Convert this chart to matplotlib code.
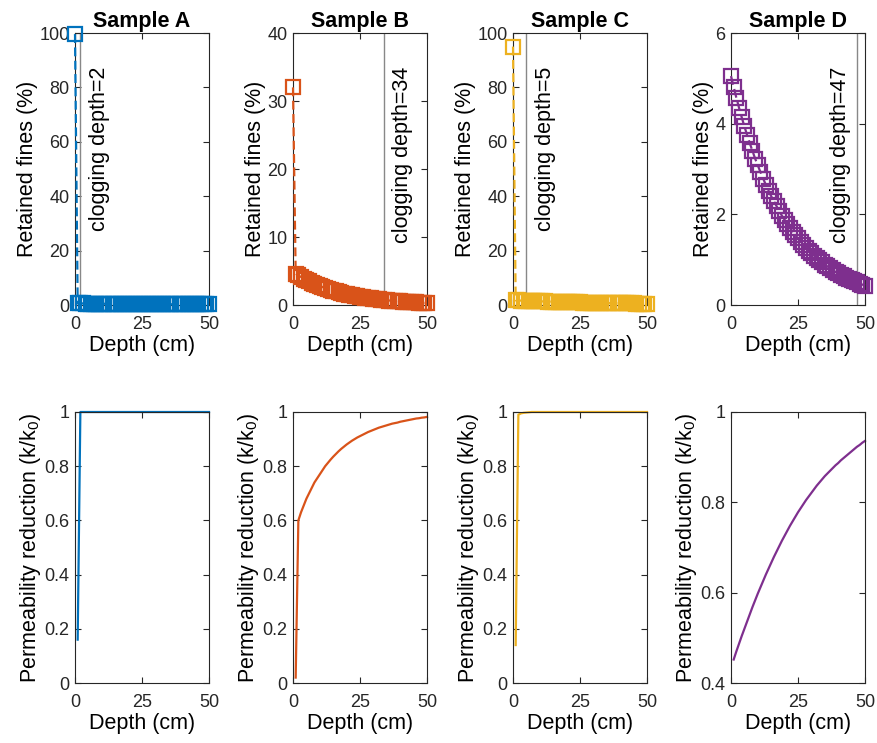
import numpy as np
import matplotlib
matplotlib.use("Agg")
import matplotlib.pyplot as plt

plt.rcParams["font.family"] = ["Liberation Sans", "DejaVu Sans"]
plt.rcParams["mathtext.fontset"] = "custom"
plt.rcParams["mathtext.rm"] = "Liberation Sans"
plt.rcParams["mathtext.it"] = "Liberation Sans:italic"

samples = ["Sample A", "Sample B", "Sample C", "Sample D"]
colors = ["#0072BD", "#D95319", "#EDB120", "#7E2F8E"]
clog_depth = [2, 34, 5, 47]

# depth grids (cm)
depth_top = np.arange(0, 51)
depth_bot = np.arange(1, 51)

# retained fines (%) at depth 0..50
fines_a = [99.6,
           0.60, 0.58, 0.57, 0.55, 0.54, 0.52, 0.51, 0.50, 0.48, 0.47,
           0.46, 0.45, 0.44, 0.43, 0.42, 0.41, 0.40, 0.39, 0.38, 0.37,
           0.36, 0.35, 0.34, 0.34, 0.33, 0.32, 0.31, 0.31, 0.30, 0.29,
           0.29, 0.28, 0.27, 0.27, 0.26, 0.26, 0.25, 0.25, 0.24, 0.24,
           0.23, 0.23, 0.22, 0.22, 0.21, 0.21, 0.21, 0.20, 0.20, 0.20]
fines_b = [32.0,
           4.60, 4.35, 4.12, 3.89, 3.68, 3.48, 3.30, 3.12, 2.95, 2.79,
           2.64, 2.50, 2.36, 2.23, 2.11, 2.00, 1.89, 1.79, 1.69, 1.60,
           1.51, 1.43, 1.35, 1.28, 1.21, 1.15, 1.08, 1.03, 0.97, 0.92,
           0.87, 0.82, 0.78, 0.73, 0.69, 0.66, 0.62, 0.59, 0.56, 0.53,
           0.50, 0.47, 0.44, 0.42, 0.40, 0.38, 0.36, 0.34, 0.32, 0.30]
fines_c = [95.0,
           1.70, 1.66, 1.62, 1.58, 1.54, 1.50, 1.46, 1.43, 1.39, 1.36,
           1.32, 1.29, 1.26, 1.23, 1.20, 1.17, 1.14, 1.11, 1.08, 1.06,
           1.03, 1.01, 0.98, 0.96, 0.93, 0.91, 0.89, 0.87, 0.84, 0.82,
           0.80, 0.78, 0.76, 0.75, 0.73, 0.71, 0.69, 0.68, 0.66, 0.64,
           0.63, 0.61, 0.60, 0.58, 0.57, 0.55, 0.54, 0.53, 0.51, 0.50]
fines_d = [5.05,
           4.81, 4.57, 4.35, 4.14, 3.94, 3.75, 3.57, 3.40, 3.23, 3.08,
           2.93, 2.79, 2.65, 2.52, 2.40, 2.29, 2.18, 2.07, 1.97, 1.88,
           1.79, 1.70, 1.62, 1.54, 1.47, 1.40, 1.33, 1.26, 1.20, 1.14,
           1.09, 1.04, 0.99, 0.94, 0.89, 0.85, 0.81, 0.77, 0.73, 0.70,
           0.66, 0.63, 0.60, 0.57, 0.55, 0.52, 0.50, 0.47, 0.45, 0.43]

# permeability reduction k/k0 at depth 1..50
perm_a = [0.16,
          1.0, 1.0, 1.0, 1.0, 1.0, 1.0, 1.0, 1.0, 1.0,
          1.0, 1.0, 1.0, 1.0, 1.0, 1.0, 1.0, 1.0, 1.0, 1.0,
          1.0, 1.0, 1.0, 1.0, 1.0, 1.0, 1.0, 1.0, 1.0, 1.0,
          1.0, 1.0, 1.0, 1.0, 1.0, 1.0, 1.0, 1.0, 1.0, 1.0,
          1.0, 1.0, 1.0, 1.0, 1.0, 1.0, 1.0, 1.0, 1.0, 1.0]
perm_b = [0.02,
          0.600, 0.630, 0.655, 0.680, 0.700, 0.720, 0.740, 0.755, 0.770, 0.785,
          0.800, 0.812, 0.824, 0.835, 0.845, 0.855, 0.864, 0.872, 0.880, 0.887,
          0.894, 0.900, 0.906, 0.911, 0.916, 0.921, 0.926, 0.930, 0.934, 0.938,
          0.942, 0.945, 0.948, 0.951, 0.954, 0.957, 0.959, 0.961, 0.964, 0.966,
          0.968, 0.970, 0.972, 0.974, 0.976, 0.977, 0.979, 0.980, 0.982]
perm_c = [0.14,
          0.990, 0.995, 0.997, 0.998, 0.999, 1.0, 1.0, 1.0, 1.0,
          1.0, 1.0, 1.0, 1.0, 1.0, 1.0, 1.0, 1.0, 1.0, 1.0,
          1.0, 1.0, 1.0, 1.0, 1.0, 1.0, 1.0, 1.0, 1.0, 1.0,
          1.0, 1.0, 1.0, 1.0, 1.0, 1.0, 1.0, 1.0, 1.0, 1.0,
          1.0, 1.0, 1.0, 1.0, 1.0, 1.0, 1.0, 1.0, 1.0, 1.0]
perm_d = [0.452, 0.470, 0.487, 0.504, 0.520, 0.536, 0.552, 0.568, 0.583, 0.598,
          0.612, 0.626, 0.640, 0.653, 0.666, 0.679, 0.691, 0.703, 0.715, 0.726,
          0.737, 0.748, 0.758, 0.768, 0.778, 0.787, 0.796, 0.805, 0.813, 0.821,
          0.829, 0.837, 0.844, 0.851, 0.858, 0.864, 0.870, 0.876, 0.882, 0.887,
          0.893, 0.898, 0.903, 0.908, 0.913, 0.918, 0.923, 0.927, 0.932, 0.936]

fines = [fines_a, fines_b, fines_c, fines_d]
perms = [perm_a, perm_b, perm_c, perm_d]
top_ylim = [(0, 100), (0, 40), (0, 100), (0, 6)]
top_yticks = [[0, 20, 40, 60, 80, 100], [0, 10, 20, 30, 40],
              [0, 20, 40, 60, 80, 100], [0, 2, 4, 6]]
bot_ylim = [(0, 1), (0, 1), (0, 1), (0.4, 1)]
bot_yticks = [[0, 0.2, 0.4, 0.6, 0.8, 1], [0, 0.2, 0.4, 0.6, 0.8, 1],
              [0, 0.2, 0.4, 0.6, 0.8, 1], [0.4, 0.6, 0.8, 1]]

W, H = 878, 743
fig = plt.figure(figsize=(W / 100, H / 100), dpi=100)

lefts = [75, 293, 513, 731]
ax_w = 134
LBL = 15.5
TCK = 13


def style(ax):
    ax.tick_params(direction="in", top=True, right=True, length=4,
                   width=0.8, labelsize=TCK, colors="#262626")
    ax.tick_params(axis="x", pad=8)
    ax.tick_params(axis="y", pad=4)
    for s in ax.spines.values():
        s.set_linewidth(0.8)
        s.set_color("#262626")


def fmt(v):
    return f"{v:g}"


for i in range(4):
    # top row: retained fines
    ax = fig.add_axes([lefts[i] / W, 1 - 305 / H, ax_w / W, 272 / H])
    ax.plot(depth_top, fines[i], linestyle=(0, (4, 2)), lw=1.6,
            color=colors[i], marker="s", markersize=9.5, markerfacecolor="none",
            markeredgewidth=1.6, clip_on=False, zorder=3)
    ax.axvline(clog_depth[i], color="#888888", lw=1.0, zorder=2)
    if clog_depth[i] > 40:
        ax.annotate(f"clogging depth={clog_depth[i]}", xy=(clog_depth[i], 0.875),
                    xycoords=("data", "axes fraction"), xytext=(-4, 0),
                    textcoords="offset points", rotation=90, ha="right",
                    va="top", fontsize=LBL)
    else:
        ax.annotate(f"clogging depth={clog_depth[i]}", xy=(clog_depth[i], 0.875),
                    xycoords=("data", "axes fraction"), xytext=(6, 0),
                    textcoords="offset points", rotation=90, ha="left",
                    va="top", fontsize=LBL)
    ax.set_xlim(0, 50)
    ax.set_ylim(*top_ylim[i])
    ax.set_xticks([0, 25, 50])
    ax.set_yticks(top_yticks[i])
    ax.set_yticklabels([fmt(v) for v in top_yticks[i]])
    ax.set_xlabel("Depth (cm)", fontsize=LBL, labelpad=1)
    ax.set_ylabel("Retained fines (%)", fontsize=LBL, labelpad=1)
    ax.set_title(samples[i], fontsize=LBL, fontweight="bold", pad=4)
    style(ax)

    # bottom row: permeability reduction
    ax2 = fig.add_axes([lefts[i] / W, 1 - 683 / H, ax_w / W, 271 / H])
    ax2.plot(depth_bot, perms[i], color=colors[i], lw=1.6, clip_on=False)
    ax2.set_xlim(0, 50)
    ax2.set_ylim(*bot_ylim[i])
    ax2.set_xticks([0, 25, 50])
    ax2.set_yticks(bot_yticks[i])
    ax2.set_yticklabels([fmt(v) for v in bot_yticks[i]])
    ax2.set_xlabel("Depth (cm)", fontsize=LBL, labelpad=1)
    ax2.set_ylabel(r"Permeability reduction (k/k$_\mathrm{0}$)", fontsize=LBL,
                   labelpad=1)
    style(ax2)

fig.savefig("out.png", dpi=100)
